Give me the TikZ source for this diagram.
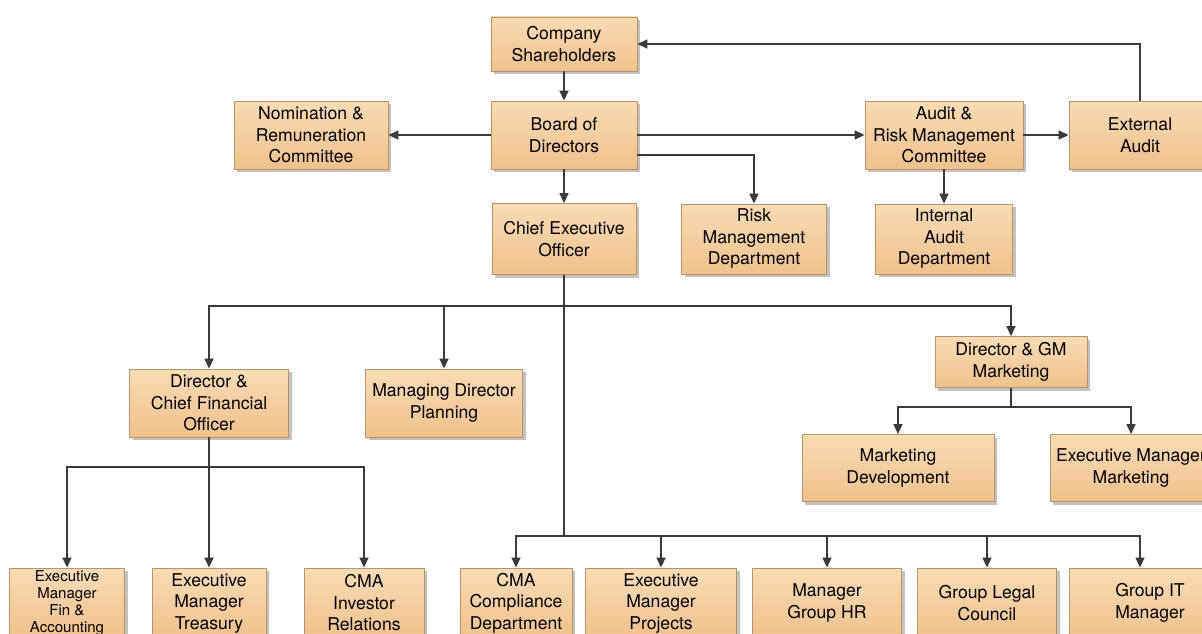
\documentclass[tikz,border=0pt]{standalone}
\usepackage{fontspec}
\setmainfont{TeX Gyre Heros}
\usetikzlibrary{arrows.meta,shadows,positioning}
\definecolor{boxtop}{HTML}{F7DCB3}
\definecolor{boxbot}{HTML}{EFC289}
\definecolor{boxline}{HTML}{B89468}
\definecolor{lnk}{HTML}{3A3A3A}
\tikzset{
  box/.style={draw=boxline, line width=0.8pt, top color=boxtop, bottom color=boxbot,
    align=center, inner sep=2pt, font=\fontsize{17.6}{21.5}\selectfont,
    drop shadow={shadow xshift=3pt, shadow yshift=-3pt, fill=black!40, opacity=0.6}},
  conn/.style={draw=lnk, line width=1.4pt, -{Triangle[length=10pt,width=9pt]}},
  plain/.style={draw=lnk, line width=1.4pt},
}
\begin{document}
\begin{tikzpicture}[x=1pt,y=-1pt]
\useasboundingbox (0,0) rectangle (1202,634);
\clip (0,0) rectangle (1202,634);
% nodes
\node[box, minimum width=146pt, minimum height=54pt] (sh) at (564,44) {Company\\Shareholders};
\node[box, minimum width=146pt, minimum height=68pt] (bd) at (564,135) {Board of\\Directors};
\node[box, minimum width=154pt, minimum height=68pt] (nom) at (311,135) {Nomination \&\\Remuneration\\Committee};
\node[box, minimum width=158pt, minimum height=68pt] (arm) at (944,135) {Audit \&\\Risk Management\\Committee};
\node[box, minimum width=142pt, minimum height=68pt] (ext) at (1140,135) {External\\Audit};
\node[box, minimum width=144pt, minimum height=71pt] (ceo) at (564,239) {Chief Executive\\Officer};
\node[box, minimum width=145pt, minimum height=70pt] (risk) at (754,239) {Risk\\Management\\Department};
\node[box, minimum width=137pt, minimum height=70pt] (ia) at (944,239) {Internal\\Audit\\Department};
\node[box, minimum width=159pt, minimum height=68pt] (cfo) at (209,403) {Director \&\\Chief Financial\\Officer};
\node[box, minimum width=157pt, minimum height=68pt] (mdp) at (444,403) {Managing Director\\Planning};
\node[box, minimum width=152pt, minimum height=51pt] (dgm) at (1011,362) {Director \& GM\\Marketing};
\node[box, minimum width=192pt, minimum height=67pt] (mkd) at (898,468) {Marketing\\Development};
\node[box, minimum width=162pt, minimum height=67pt] (emm) at (1131,468) {Executive Manager\\Marketing};
% bottom row
\node[box, minimum width=115pt, minimum height=70pt, font=\fontsize{15}{17}\selectfont] (efa) at (67,603) {Executive\\Manager\\Fin \&\\Accounting};
\node[box, minimum width=114pt, minimum height=70pt] (etr) at (209,603) {Executive\\Manager\\Treasury};
\node[box, minimum width=120pt, minimum height=70pt] (cir) at (364,603) {CMA\\Investor\\Relations};
\node[box, minimum width=112pt, minimum height=70pt] (ccd) at (516,603) {CMA\\Compliance\\Department};
\node[box, minimum width=151pt, minimum height=70pt] (emp) at (661,603) {Executive\\Manager\\Projects};
\node[box, minimum width=149pt, minimum height=70pt] (mhr) at (827,603) {Manager\\Group HR};
\node[box, minimum width=139pt, minimum height=70pt] (glc) at (987,603) {Group Legal\\Council};
\node[box, minimum width=162pt, minimum height=70pt] (git) at (1150,603) {Group IT\\Manager};
% junctions
\coordinate (j1) at (564,306);
\coordinate (j2) at (564,536);
\coordinate (j3) at (209,467);
\coordinate (j4) at (1011,407);
% connectors
\draw[conn] (sh.south) -- (bd.north);
\draw[conn] (ext.north) |- (sh.east);
\draw[conn] (bd.west) -- (nom.east);
\draw[conn] (bd.east) -- (arm.west);
\draw[conn] ([yshift=-20pt]bd.east) -| (risk.north);
\draw[conn] (bd.south) -- (ceo.north);
\draw[conn] (arm.east) -- (ext.west);
\draw[conn] (arm.south) -- (ia.north);
\draw[plain] (ceo.south) -- (j2);
\draw[conn] (j1) -| (cfo.north);
\draw[conn] (j1) -| (mdp.north);
\draw[conn] (j1) -| (dgm.north);
\draw[plain] (cfo.south) -- (j3);
\draw[conn] (j3) -| (efa.north);
\draw[conn] (j3) -- (etr.north);
\draw[conn] (j3) -| (cir.north);
\draw[plain] (dgm.south) -- (j4);
\draw[conn] (j4) -| (mkd.north);
\draw[conn] (j4) -| (emm.north);
\draw[conn] (j2) -| (ccd.north);
\draw[conn] (j2) -| (emp.north);
\draw[conn] (j2) -| (mhr.north);
\draw[conn] (j2) -| (glc.north);
\draw[conn] (j2) -| ([xshift=-10pt]git.north);
\end{tikzpicture}
\end{document}
